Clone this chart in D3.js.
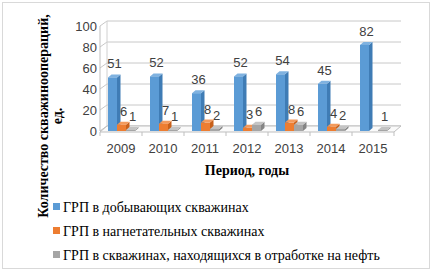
<!DOCTYPE html>
<html>
<head>
<meta charset="utf-8">
<script src="https://cdn.jsdelivr.net/npm/d3@7"></script>
<style>
  body { margin: 0; background: #fff; }
  svg { display: block; }
</style>
</head>
<body>
<div id="chart"></div>
<script>
const years = ["2009", "2010", "2011", "2012", "2013", "2014", "2015"];
const series = [
  "ГРП в добывающих скважинах",
  "ГРП в нагнетательных скважинах",
  "ГРП в скважинах, находящихся в отработке на нефть"
];
const producing = [51, 52, 36, 52, 54, 45, 82];
const injection = [6, 7, 8, 3, 8, 4, null];
const workingOff = [1, 1, 2, 6, 6, 2, 1];
const yTicks = [0, 20, 40, 60, 80, 100];

const colors = ["#5b9bd5", "#ed7d31", "#a5a5a5"];
const sideColors = ["#3f7cb5", "#c8601a", "#858585"];
const topColors = ["#7fb2e0", "#f39a5c", "#c4c4c4"];

const width = 432, height = 274;
const dx = 7, dy = -5;     // perspective offset of back wall
const bdx = 3.5, bdy = -3; // bar depth

const svg = d3.select("#chart").append("svg")
  .attr("width", width)
  .attr("height", height);

svg.append("rect")
  .attr("x", 2.5).attr("y", 2.5)
  .attr("width", 427).attr("height", 266)
  .attr("fill", "#fff")
  .attr("stroke", "#d9d9d9");

const x = d3.scaleBand().domain(years).range([100, 394]);
const xs = d3.scaleBand().domain(d3.range(3)).range([8, 35]);
const y = d3.scaleLinear().domain([0, 100]).range([131, 26]);

// side wall + back wall gridlines
const grid = svg.append("g");
yTicks.forEach(t => {
  grid.append("path")
    .attr("d", `M${x.range()[0]},${y(t)}L${x.range()[0] + dx},${y(t) + dy}L${x.range()[1] + dx},${y(t) + dy}`)
    .attr("fill", "none")
    .attr("stroke", t === 0 ? "#bfbfbf" : "#c8c8c8")
    .attr("stroke-width", 1);
});
grid.append("line")
  .attr("x1", x.range()[0]).attr("x2", x.range()[0])
  .attr("y1", y(100)).attr("y2", y(0))
  .attr("stroke", "#bfbfbf");
grid.append("line")
  .attr("x1", x.range()[0] + dx).attr("x2", x.range()[0] + dx)
  .attr("y1", y(100) + dy).attr("y2", y(0) + dy)
  .attr("stroke", "#d0d0d0");

// floor
svg.append("path")
  .attr("d", `M${x.range()[0]},${y(0) + 1}L${x.range()[1]},${y(0) + 1}L${x.range()[1] + dx},${y(0) + dy}L${x.range()[0] + dx},${y(0) + dy}Z`)
  .attr("fill", "#fafafa")
  .attr("stroke", "#bfbfbf");

// category tick marks
years.concat([null]).forEach((yr, i) => {
  const px = x.range()[0] + i * x.step();
  svg.append("line")
    .attr("x1", px).attr("x2", px)
    .attr("y1", y(0) + 1).attr("y2", y(0) + 5)
    .attr("stroke", "#bfbfbf");
});

// y tick labels
svg.append("g").selectAll("text")
  .data(yTicks)
  .enter()
  .append("text")
  .attr("x", 97)
  .attr("y", d => y(d) + 4.5)
  .attr("text-anchor", "end")
  .attr("font-family", "Liberation Sans, Arial, sans-serif")
  .attr("font-size", "13px")
  .attr("fill", "#404040")
  .text(d => d);

// x labels
svg.append("g").selectAll("text")
  .data(years)
  .enter()
  .append("text")
  .attr("x", d => x(d) + x.bandwidth() / 2)
  .attr("y", 153)
  .attr("text-anchor", "middle")
  .attr("font-family", "Liberation Sans, Arial, sans-serif")
  .attr("font-size", "13px")
  .attr("fill", "#404040")
  .text(d => d);

// bars
const allSeries = [producing, injection, workingOff];
const bars = [];
allSeries.forEach((vals, s) => {
  vals.forEach((v, i) => {
    if (v === null) return;
    bars.push({ s, v, year: years[i] });
  });
});

const barG = svg.append("g");
bars.forEach(b => {
  const x0 = x(b.year) + xs(b.s);
  const x1 = x0 + xs.bandwidth();
  const y0 = y(0);
  const y1 = y(b.v);
  const g = barG.append("g");
  g.append("path")
    .attr("d", `M${x1},${y0}L${x1 + bdx},${y0 + bdy}L${x1 + bdx},${y1 + bdy}L${x1},${y1}Z`)
    .attr("fill", sideColors[b.s]);
  g.append("path")
    .attr("d", `M${x0},${y1}L${x0 + bdx},${y1 + bdy}L${x1 + bdx},${y1 + bdy}L${x1},${y1}Z`)
    .attr("fill", topColors[b.s]);
  g.append("rect")
    .attr("x", x0).attr("y", y1)
    .attr("width", x1 - x0).attr("height", Math.max(0.5, y0 - y1))
    .attr("fill", colors[b.s]);
});

// value labels
svg.append("g").selectAll("text")
  .data(bars)
  .enter()
  .append("text")
  .attr("x", d => x(d.year) + xs(d.s) + xs.bandwidth() / 2 + 2)
  .attr("y", d => y(d.v) - 9)
  .attr("text-anchor", "middle")
  .attr("font-family", "Liberation Sans, Arial, sans-serif")
  .attr("font-size", "13px")
  .attr("fill", "#404040")
  .text(d => d.v);

// axis titles
svg.append("text")
  .attr("x", 247)
  .attr("y", 175)
  .attr("text-anchor", "middle")
  .attr("font-family", "Liberation Serif, Times New Roman, serif")
  .attr("font-weight", "bold")
  .attr("font-size", "14px")
  .attr("fill", "#000")
  .text("Период, годы");

const yTitle = svg.append("text")
  .attr("transform", "translate(48,116) rotate(-90)")
  .attr("text-anchor", "middle")
  .attr("font-family", "Liberation Serif, Times New Roman, serif")
  .attr("font-weight", "bold")
  .attr("font-size", "14px")
  .attr("fill", "#000");
yTitle.append("tspan").attr("x", 0).attr("dy", 0).text("Количество скважиноопераций,");
yTitle.append("tspan").attr("x", 0).attr("dy", 14).text("ед.");

// legend
const legend = svg.append("g").selectAll("g")
  .data(series)
  .enter()
  .append("g")
  .attr("transform", (d, i) => `translate(53,${207 + i * 24})`);
legend.append("rect")
  .attr("x", 0).attr("y", -4)
  .attr("width", 7).attr("height", 7)
  .attr("fill", (d, i) => colors[i]);
legend.append("text")
  .attr("x", 10)
  .attr("y", 4.5)
  .attr("font-family", "Liberation Serif, Times New Roman, serif")
  .attr("font-size", "14px")
  .attr("fill", "#000")
  .text(d => d);
</script>
</body>
</html>
